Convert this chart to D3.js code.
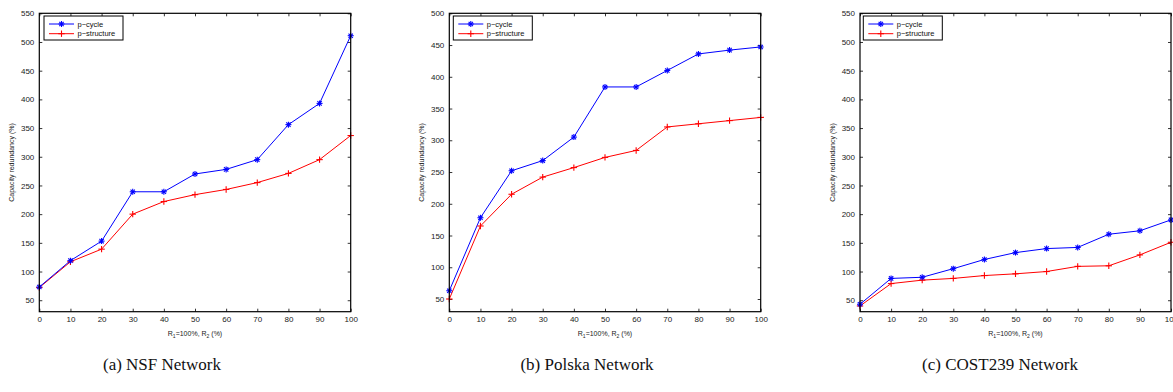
<!DOCTYPE html>
<html>
<head>
<meta charset="utf-8">
<script src="https://cdn.jsdelivr.net/npm/d3@7"></script>
<style>
  body { margin: 0; background: #fff; }
  svg { display: block; }
  .tick text { font-family: "Liberation Sans", Arial, sans-serif; font-size: 8px; fill: #222; }
  .caption { font-family: "Liberation Serif", "DejaVu Serif", serif; font-size: 17px; fill: #111; }
</style>
</head>
<body>
<div id="viz"></div>
<script>
// x values shared by all three panels
const r2 = [0, 10, 20, 30, 40, 50, 60, 70, 80, 90, 100];
const xTicks = [0, 10, 20, 30, 40, 50, 60, 70, 80, 90, 100];

const nsfCycle = [73, 119, 153, 239, 239, 270, 278, 295, 356, 393, 511];
const nsfStructure = [72, 117, 139, 200, 222, 234, 243, 255, 271, 295, 337];

const polskaCycle = [63, 178, 252, 268, 305, 384, 384, 410, 436, 442, 447];
const polskaStructure = [50, 165, 215, 242, 257, 273, 284, 321, 326, 331, 336];

const costCycle = [43, 88, 90, 105, 121, 133, 140, 142, 165, 171, 190];
const costStructure = [40, 79, 85, 88, 93, 96, 100, 109, 110, 129, 151];

const seriesNames = ["p\u2212cycle", "p\u2212structure"];
const captions = ["(a)  NSF Network", "(b)  Polska Network", "(c)  COST239 Network"];

const panels = [
  {left: 39.3, right: 350.7, yMax: 550, yTicks: d3.range(50, 551, 50), cycle: nsfCycle, structure: nsfStructure, capX: 162, legX: 44},
  {left: 449.3, right: 760.7, yMax: 500, yTicks: d3.range(50, 501, 50), cycle: polskaCycle, structure: polskaStructure, capX: 587, legX: 453.3},
  {left: 860, right: 1171, yMax: 550, yTicks: d3.range(50, 551, 50), cycle: costCycle, structure: costStructure, capX: 1000, legX: 863.3}
];

const W = 1173, H = 392, plotTop = 13.3, plotBottom = 311.7;
const blue = "#0000ff", red = "#ff0000";

const svg = d3.select("#viz").append("svg").attr("width", W).attr("height", H);

// asterisk marker (MATLAB '*') and plus marker
function star(g, x, y, c) {
  const s = 3;
  [[s, 0], [0, s], [s * 0.72, s * 0.72], [s * 0.72, -s * 0.72]].forEach(([dx, dy]) => {
    g.append("line").attr("x1", x - dx).attr("y1", y - dy).attr("x2", x + dx).attr("y2", y + dy)
      .attr("stroke", c).attr("stroke-width", 1.1);
  });
}
function plus(g, x, y, c) {
  const s = 3.2;
  g.append("line").attr("x1", x - s).attr("y1", y).attr("x2", x + s).attr("y2", y).attr("stroke", c).attr("stroke-width", 1.1);
  g.append("line").attr("x1", x).attr("y1", y - s).attr("x2", x).attr("y2", y + s).attr("stroke", c).attr("stroke-width", 1.1);
}

panels.forEach((p, i) => {
  const x = d3.scaleLinear().domain([0, 100]).range([p.left, p.right]);
  const y = d3.scaleLinear().domain([30, p.yMax]).range([plotBottom, plotTop]);
  const g = svg.append("g");

  // axes, ticks inward, mirrored on top and right
  g.append("g").attr("transform", `translate(0,${plotBottom})`)
    .call(d3.axisBottom(x).tickValues(xTicks).tickSizeInner(-3).tickSizeOuter(0).tickPadding(5))
    .call(a => a.select(".domain").remove());
  g.append("g").attr("transform", `translate(0,${plotTop})`)
    .call(d3.axisTop(x).tickValues(xTicks).tickSizeInner(-3).tickSizeOuter(0).tickFormat(""))
    .call(a => a.select(".domain").remove());
  g.append("g").attr("transform", `translate(${p.left},0)`)
    .call(d3.axisLeft(y).tickValues(p.yTicks).tickSizeInner(-3).tickSizeOuter(0).tickPadding(5))
    .call(a => a.select(".domain").remove());
  g.append("g").attr("transform", `translate(${p.right},0)`)
    .call(d3.axisRight(y).tickValues(p.yTicks).tickSizeInner(-3).tickSizeOuter(0).tickFormat(""))
    .call(a => a.select(".domain").remove());
  g.selectAll(".tick line").attr("stroke", "#000").attr("stroke-width", 0.8);

  // lines
  const line = d3.line().x((d, j) => x(r2[j])).y(d => y(d));
  g.append("path").datum(p.structure).attr("d", line).attr("fill", "none").attr("stroke", red).attr("stroke-width", 1);
  g.append("path").datum(p.cycle).attr("d", line).attr("fill", "none").attr("stroke", blue).attr("stroke-width", 1);
  p.structure.forEach((v, j) => plus(g, x(r2[j]), y(v), red));
  p.cycle.forEach((v, j) => star(g, x(r2[j]), y(v), blue));

  // frame
  g.append("rect").attr("x", p.left).attr("y", plotTop).attr("width", p.right - p.left).attr("height", plotBottom - plotTop)
    .attr("fill", "none").attr("stroke", "#000").attr("stroke-width", 1.2);

  // legend
  const lg = g.append("g").attr("transform", `translate(${p.legX},16)`);
  lg.append("rect").attr("width", 79).attr("height", 24).attr("fill", "#fff").attr("stroke", "#000").attr("stroke-width", 1);
  [[blue, star], [red, plus]].forEach(([c, mk], k) => {
    const yy = 8 + k * 9.7;
    lg.append("line").attr("x1", 5).attr("x2", 30).attr("y1", yy).attr("y2", yy).attr("stroke", c).attr("stroke-width", 1);
    mk(lg, 17.5, yy, c);
    lg.append("text").attr("x", 33.5).attr("y", yy + 2.6).text(seriesNames[k])
      .style("font-family", "Liberation Sans, Arial, sans-serif").style("font-size", "7.5px").attr("fill", "#111");
  });

  // axis titles
  const cx = (p.left + p.right) / 2;
  const xl = g.append("text").attr("x", cx).attr("y", 335.5).attr("text-anchor", "middle")
    .style("font-family", "Liberation Sans, Arial, sans-serif").style("font-size", "7px").attr("fill", "#222");
  xl.append("tspan").text("R");
  xl.append("tspan").attr("dy", 2).style("font-size", "5px").text("1");
  xl.append("tspan").attr("dy", -2).text("=100%, R");
  xl.append("tspan").attr("dy", 2).style("font-size", "5px").text("2");
  xl.append("tspan").attr("dy", -2).text(" (%)");

  g.append("text").attr("transform", `translate(${p.left - 25},${(plotTop + plotBottom) / 2}) rotate(-90)`)
    .attr("text-anchor", "middle")
    .style("font-family", "Liberation Sans, Arial, sans-serif").style("font-size", "7px").attr("fill", "#222")
    .text("Capacity redundancy (%)");

  // caption
  svg.append("text").attr("class", "caption").attr("x", p.capX).attr("y", 370).attr("text-anchor", "middle")
    .text(captions[i]);
});
</script>
</body>
</html>
